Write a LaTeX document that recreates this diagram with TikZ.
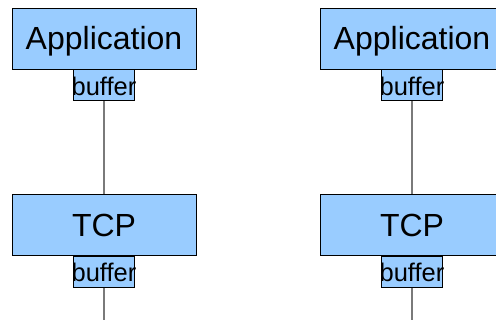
\documentclass[tikz,border=0pt]{standalone}
\usepackage{fontspec}
\setmainfont{Liberation Sans}
\usetikzlibrary{positioning}

\definecolor{boxblue}{HTML}{99CCFF}
\definecolor{linkgray}{HTML}{7A7A7A}

\tikzset{
  layer/.style={draw=black, line width=0.8pt, fill=boxblue, inner sep=0pt,
    minimum width=184pt, minimum height=61pt, text height=23pt, text depth=0pt,
    font=\fontsize{32}{38}\selectfont},
  bufbox/.style={draw=black, line width=0.8pt, fill=boxblue, inner sep=0pt,
    minimum width=61pt, minimum height=31pt},
  buftext/.style={font=\fontsize{25.5}{30}\selectfont, inner sep=0pt,
    text height=18pt, text depth=0pt, yshift=-1pt},
  link/.style={draw=linkgray, line width=1.1pt}
}

\begin{document}
\begin{tikzpicture}[x=1pt, y=-1pt]
        \useasboundingbox (0,0) rectangle (496,320);

        % left host
        \node (appL)  [layer] at (104,38.5) {Application};
        \node (bufAL) [bufbox, below=0pt of appL, label={[buftext]center:buffer}] {};
        \node (tcpL)  [layer, below=93pt of bufAL] {TCP};
        \node (bufTL) [bufbox, below=0pt of tcpL, label={[buftext]center:buffer}] {};
        \coordinate (endL) at (104,320);

        % right host
        \node (appR)  [layer] at (412,38.5) {Application};
        \node (bufAR) [bufbox, below=0pt of appR, label={[buftext]center:buffer}] {};
        \node (tcpR)  [layer, below=93pt of bufAR] {TCP};
        \node (bufTR) [bufbox, below=0pt of tcpR, label={[buftext]center:buffer}] {};
        \coordinate (endR) at (412,320);

        \draw [link] (bufAL) -- (tcpL);
        \draw [link] (bufTL) -- (endL);
        \draw [link] (bufAR) -- (tcpR);
        \draw [link] (bufTR) -- (endR);
      \end{tikzpicture}
\end{document}
